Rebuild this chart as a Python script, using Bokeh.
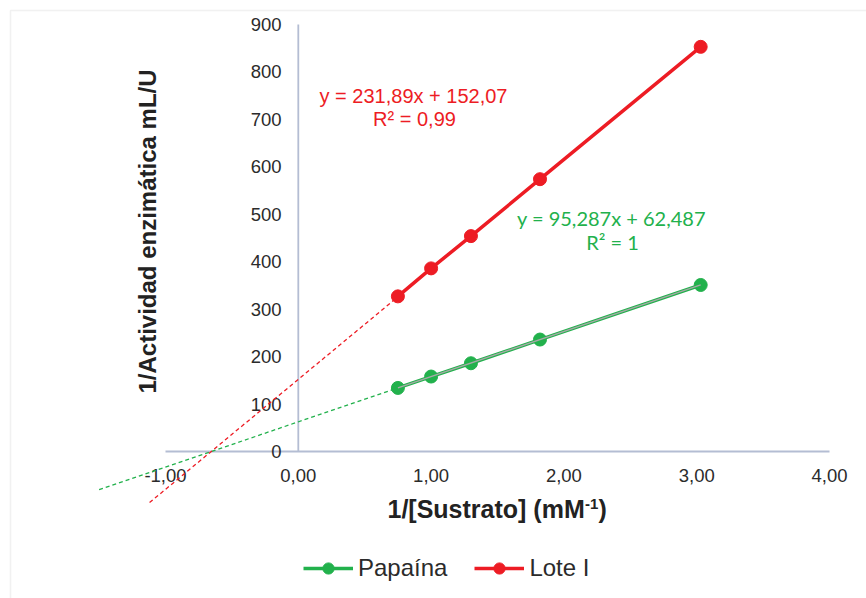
import math
from bokeh.plotting import figure
from bokeh.models import Range1d, Legend, LegendItem, BoxAnnotation
from bokeh.core.properties import value
from bokeh.embed import file_html
from bokeh.resources import INLINE

# ---- data ----
x_sub = [0.75, 1.0, 1.3, 1.82, 3.03]          # 1/[Sustrato] (mM^-1)
papaina = [134, 158, 186, 236, 351]           # 1/Actividad enzimatica
lote_i = [327, 386, 454, 574, 853]
x_ticks = [-1, 0, 1, 2, 3, 4]
x_tick_labels = ["-1,00", "0,00", "1,00", "2,00", "3,00", "4,00"]
y_ticks = [0, 100, 200, 300, 400, 500, 600, 700, 800, 900]
y_tick_labels = [str(v) for v in y_ticks]
# trend lines (Excel linear fits, with backward forecast)
pap_slope, pap_icpt = 95.287, 62.487
lot_slope, lot_icpt = 231.89, 152.07
pap_back_start = -1.5
lot_back_start = -1.12
pap_eq = ["y = 95,287x + 62,487", "R² = 1"]
lot_eq = ["y = 231,89x + 152,07", "R² = 0,99"]

W, H = 866, 598
X0PX, XS = 297.8, 132.8
Y0PX, YS = 451.0, 0.4744

def dx(px):
    return (px - X0PX) / XS

def dy(py):
    return (Y0PX - py) / YS

GREEN = "#22B14C"
RED = "#ED1C24"
AXIS = "#B4BDD3"
TXT = "#2B2B2B"

p = figure(width=W, height=H, output_backend="svg", toolbar_location=None,
           x_range=Range1d(dx(0), dx(W)), y_range=Range1d(dy(H), dy(0)),
           x_axis_type=None, y_axis_type=None, min_border=0)
p.grid.visible = False
p.outline_line_color = None
p.background_fill_color = "white"
p.border_fill_color = "white"

# chart-area border (top & left visible)
p.add_layout(BoxAnnotation(left=dx(10), top=dy(10), right=dx(3000), bottom=dy(3000),
                           fill_alpha=0, line_color="#D0D0D0", line_width=1.5))

# axes crossing at origin
p.segment(x0=[x_ticks[0]], y0=[0], x1=[x_ticks[-1]], y1=[0], line_color=AXIS, line_width=1.8)
p.segment(x0=[0], y0=[y_ticks[0]], x1=[0], y1=[y_ticks[-1]], line_color=AXIS, line_width=1.8)

# tick labels
p.text(x=[dx(281)] * len(y_ticks), y=y_ticks, text=y_tick_labels,
       text_align="right", text_baseline="middle", text_color=TXT,
       text_font=value("Liberation Sans"), text_font_size="18.5px")
p.text(x=x_ticks, y=[dy(475)] * len(x_ticks), text=x_tick_labels,
       text_align="center", text_baseline="middle", text_color=TXT,
       text_font=value("Liberation Sans"), text_font_size="18.5px")

# axis titles
p.text(x=[dx(147)], y=[dy(231)], text=["1/Actividad enzimática mL/U"], angle=math.pi / 2,
       text_align="center", text_baseline="middle", text_color="#222222",
       text_font=value("Liberation Sans"), text_font_style="bold", text_font_size="24px")
p.text(x=[dx(387)], y=[dy(508)], text=["1/[Sustrato] (mM"],
       text_align="left", text_baseline="middle", text_color="#222222",
       text_font=value("Liberation Sans"), text_font_style="bold", text_font_size="25px")
p.text(x=[dx(584.5)], y=[dy(503)], text=["-1"],
       text_align="left", text_baseline="middle", text_color="#222222",
       text_font=value("Liberation Sans"), text_font_style="bold", text_font_size="15px")
p.text(x=[dx(598)], y=[dy(508)], text=[")"],
       text_align="left", text_baseline="middle", text_color="#222222",
       text_font=value("Liberation Sans"), text_font_style="bold", text_font_size="25px")

# dashed trend-line forecasts
x_first = x_sub[0]
p.line([pap_back_start, x_first],
       [pap_slope * pap_back_start + pap_icpt, pap_slope * x_first + pap_icpt],
       line_color=GREEN, line_width=1.3, line_dash="4 3")
p.line([lot_back_start, x_first],
       [lot_slope * lot_back_start + lot_icpt, lot_slope * x_first + lot_icpt],
       line_color=RED, line_width=1.3, line_dash="4 3")

# series
g_line = p.line(x_sub, papaina, line_color=GREEN, line_width=3.5)
g_pts = p.scatter(x_sub, papaina, size=13, fill_color=GREEN, line_color=GREEN)
r_line = p.line(x_sub, lote_i, line_color=RED, line_width=3.5)
r_pts = p.scatter(x_sub, lote_i, size=13, fill_color=RED, line_color=RED)

# trend line over the data range for Papaína (grey)
p.line([x_sub[0], x_sub[-1]],
       [pap_slope * x_sub[0] + pap_icpt, pap_slope * x_sub[-1] + pap_icpt],
       line_color="#A8A8A8", line_width=1.4)

# equations
p.text(x=[dx(413), dx(414)], y=[dy(95), dy(118)], text=lot_eq,
       text_align="center", text_baseline="middle", text_color=RED,
       text_font=value("Liberation Sans"), text_font_size="20px")
p.text(x=[dx(611), dx(612)], y=[dy(217), dy(241)], text=pap_eq,
       text_align="center", text_baseline="middle", text_color=GREEN,
       text_font=value("Lato"), text_font_size="20px")

legend = Legend(items=[LegendItem(label="Papaína", renderers=[g_line, g_pts]),
                       LegendItem(label="Lote I", renderers=[r_line, r_pts])],
                orientation="horizontal", location=(303, 16),
                glyph_width=50, glyph_height=28, label_height=28,
                label_standoff=5, spacing=27, padding=0, margin=0,
                border_line_color=None, background_fill_alpha=0,
                label_text_font="Liberation Sans", label_text_font_size="24px",
                label_text_color=TXT)
p.add_layout(legend, "center")

open("out.html", "w").write(file_html(p, INLINE))
